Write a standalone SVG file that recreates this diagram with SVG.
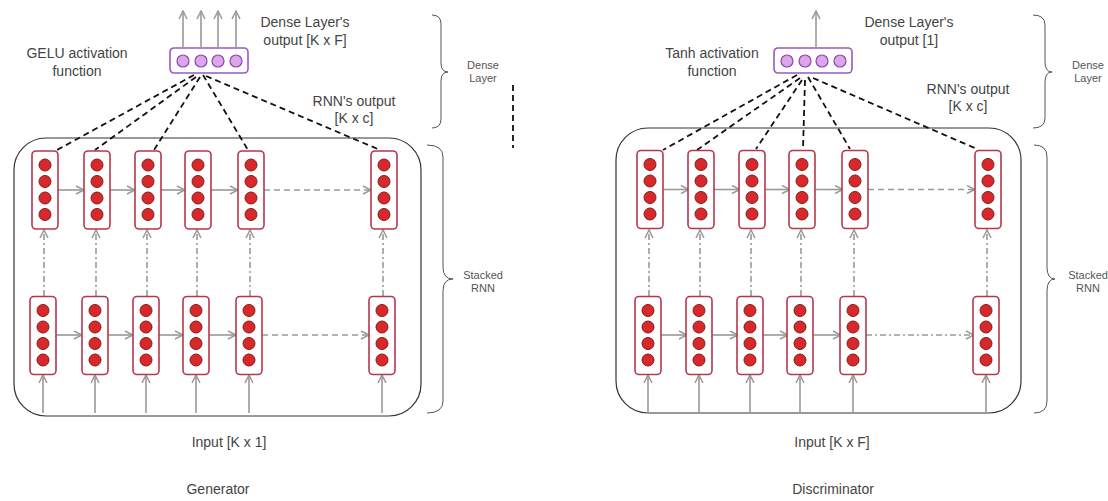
<svg xmlns="http://www.w3.org/2000/svg" xmlns:xlink="http://www.w3.org/1999/xlink" width="1108" height="501" viewBox="0 0 1108 501">
<style>
text{font-family:"Liberation Sans",Arial,sans-serif;fill:#444;}
.lbl{font-size:14px;text-anchor:middle;}
.sm{font-size:11px;text-anchor:middle;fill:#555;}
.cellbox{fill:#fff;stroke:#b8364c;stroke-width:1.6;}
.rc{fill:#d7282b;stroke:#8a1a1a;stroke-width:1;}
.dbox{fill:#fff;stroke:#9b59c0;stroke-width:1.6;}
.pc{fill:#dba6ea;stroke:#8e44ad;stroke-width:1.2;}
.cont{fill:none;stroke:#333;stroke-width:1.2;}
.brace{fill:none;stroke:#555;stroke-width:1;}
.ga{fill:none;stroke:#999;stroke-width:1.6;marker-end:url(#ah);}
.gd{fill:none;stroke:#999;stroke-width:1.6;stroke-dasharray:6 4;marker-end:url(#ah);}
.gdd{fill:none;stroke:#999;stroke-width:1.6;stroke-dasharray:6 3 2 3;marker-end:url(#ah);}
.bk{fill:none;stroke:#111;stroke-width:1.8;stroke-dasharray:6 4;}
</style>
<defs>
<marker id="ah" viewBox="0 0 10 10" refX="9" refY="5" markerWidth="10" markerHeight="10" markerUnits="userSpaceOnUse" orient="auto">
<path d="M1,1 L9,5 L1,9" fill="none" stroke="#999" stroke-width="1.5"/>
</marker>
<g id="cell">
<rect class="cellbox" x="-13" y="-39" width="26" height="78" rx="4"/>
<circle class="rc" cx="0" cy="-25" r="6"/>
<circle class="rc" cx="0" cy="-8.5" r="6"/>
<circle class="rc" cx="0" cy="8" r="6"/>
<circle class="rc" cx="0" cy="24.5" r="6"/>
</g>
<g id="dense">
<rect class="dbox" x="0" y="0" width="78" height="25" rx="4"/>
<circle class="pc" cx="13" cy="13" r="6"/>
<circle class="pc" cx="31" cy="13" r="6"/>
<circle class="pc" cx="48" cy="13" r="6"/>
<circle class="pc" cx="66" cy="13" r="6"/>
</g>
</defs>
<rect width="1108" height="501" fill="#fff"/>

<!-- Generator -->
<g id="gen-container"><rect class="cont" x="14" y="138" width="407" height="278" rx="32"/></g>

<g id="gen-connectors">
<line class="bk" x1="194" y1="75" x2="57" y2="150"/>
<line class="bk" x1="196" y1="77" x2="95" y2="150"/>
<line class="bk" x1="200" y1="77" x2="154" y2="150"/>
<line class="bk" x1="203" y1="75" x2="248" y2="150"/>
<line class="bk" x1="206" y1="76" x2="380" y2="150"/>
<line class="ga" x1="183" y1="47" x2="183" y2="11"/>
<line class="ga" x1="201" y1="47" x2="201" y2="11"/>
<line class="ga" x1="218" y1="47" x2="218" y2="11"/>
<line class="ga" x1="236" y1="47" x2="236" y2="11"/>
<line class="ga" x1="58" y1="190" x2="84" y2="190"/>
<line class="ga" x1="110" y1="190" x2="135" y2="190"/>
<line class="ga" x1="161" y1="190" x2="185" y2="190"/>
<line class="ga" x1="211" y1="190" x2="238" y2="190"/>
<line class="gd" x1="264" y1="190" x2="371" y2="190"/>
<line class="ga" x1="56" y1="335" x2="82" y2="335"/>
<line class="ga" x1="108" y1="335" x2="133" y2="335"/>
<line class="ga" x1="159" y1="335" x2="183" y2="335"/>
<line class="ga" x1="209" y1="335" x2="236" y2="335"/>
<line class="gd" x1="262" y1="335" x2="369" y2="335"/>
<line class="gdd" x1="44" y1="296" x2="44" y2="230"/>
<line class="gdd" x1="96" y1="296" x2="96" y2="230"/>
<line class="gdd" x1="147" y1="296" x2="147" y2="230"/>
<line class="gdd" x1="197" y1="296" x2="197" y2="230"/>
<line class="gdd" x1="250" y1="296" x2="250" y2="230"/>
<line class="gdd" x1="383" y1="296" x2="383" y2="230"/>
<line class="ga" x1="43" y1="413" x2="43" y2="375"/>
<line class="ga" x1="95" y1="413" x2="95" y2="375"/>
<line class="ga" x1="146" y1="413" x2="146" y2="375"/>
<line class="ga" x1="196" y1="413" x2="196" y2="375"/>
<line class="ga" x1="249" y1="413" x2="249" y2="375"/>
<line class="ga" x1="382" y1="413" x2="382" y2="375"/>
<line class="bk" x1="513" y1="85" x2="513" y2="148"/>
</g>

<g id="gen-dense"><use xlink:href="#dense" x="170" y="48"/></g>
<g id="gen-t1"><use xlink:href="#cell" x="45" y="190"/></g>
<g id="gen-t2"><use xlink:href="#cell" x="97" y="190"/></g>
<g id="gen-t3"><use xlink:href="#cell" x="148" y="190"/></g>
<g id="gen-t4"><use xlink:href="#cell" x="198" y="190"/></g>
<g id="gen-t5"><use xlink:href="#cell" x="251" y="190"/></g>
<g id="gen-t6"><use xlink:href="#cell" x="384" y="190"/></g>
<g id="gen-b1"><use xlink:href="#cell" x="43" y="335.5"/></g>
<g id="gen-b2"><use xlink:href="#cell" x="95" y="335.5"/></g>
<g id="gen-b3"><use xlink:href="#cell" x="146" y="335.5"/></g>
<g id="gen-b4"><use xlink:href="#cell" x="196" y="335.5"/></g>
<g id="gen-b5"><use xlink:href="#cell" x="249" y="335.5"/></g>
<g id="gen-b6"><use xlink:href="#cell" x="382" y="335.5"/></g>

<g id="gen-braces">
<path class="brace" d="M432,15 Q441,15 441,24 L441,63 Q441,72 448,72 Q441,72 441,81 L441,119 Q441,128 432,128"/>
<path class="brace" d="M427,145 Q443,145 443,157 L443,267 Q443,279 453,279 Q443,279 443,291 L443,401 Q443,413 427,413"/>
</g>

<g id="gen-labels">
<text class="lbl" x="77" y="58">GELU activation</text>
<text class="lbl" x="77" y="76">function</text>
<text class="lbl" x="305" y="27">Dense Layer's</text>
<text class="lbl" x="305" y="45">output [K x F]</text>
<text class="lbl" x="354" y="106">RNN's output</text>
<text class="lbl" x="354" y="123">[K x c]</text>
<text class="sm" x="483" y="69">Dense</text>
<text class="sm" x="483" y="82">Layer</text>
<text class="sm" x="483" y="279">Stacked</text>
<text class="sm" x="483" y="292">RNN</text>
<text class="lbl" x="229" y="447">Input [K x 1]</text>
<text class="lbl" x="218" y="494">Generator</text>
</g>

<!-- Discriminator -->
<g id="disc-container"><rect class="cont" x="616" y="128" width="405" height="285" rx="32"/></g>

<g id="disc-connectors">
<line class="bk" x1="797" y1="75" x2="663" y2="150"/>
<line class="bk" x1="800" y1="78" x2="697" y2="150"/>
<line class="bk" x1="802" y1="80" x2="756" y2="149"/>
<line class="bk" x1="805" y1="80" x2="803" y2="149"/>
<line class="bk" x1="808" y1="77" x2="850" y2="149"/>
<line class="bk" x1="813" y1="78" x2="977" y2="149"/>
<line class="ga" x1="816" y1="47" x2="816" y2="11"/>
<line class="ga" x1="663" y1="189.5" x2="689" y2="189.5"/>
<line class="ga" x1="714" y1="189.5" x2="740" y2="189.5"/>
<line class="ga" x1="765" y1="189.5" x2="790" y2="189.5"/>
<line class="ga" x1="815" y1="189.5" x2="843" y2="189.5"/>
<line class="gd" x1="868" y1="189.5" x2="975" y2="189.5"/>
<line class="ga" x1="661" y1="335" x2="687" y2="335"/>
<line class="ga" x1="712" y1="335" x2="738" y2="335"/>
<line class="ga" x1="763" y1="335" x2="788" y2="335"/>
<line class="ga" x1="813" y1="335" x2="841" y2="335"/>
<line class="gdd" x1="866" y1="335" x2="974" y2="335"/>
<line class="gdd" x1="649" y1="296" x2="649" y2="230"/>
<line class="gdd" x1="700" y1="296" x2="700" y2="230"/>
<line class="gdd" x1="751" y1="296" x2="751" y2="230"/>
<line class="gdd" x1="801" y1="296" x2="801" y2="230"/>
<line class="gdd" x1="854" y1="296" x2="854" y2="230"/>
<line class="gdd" x1="987" y1="296" x2="987" y2="230"/>
<line class="ga" x1="648" y1="413" x2="648" y2="375"/>
<line class="ga" x1="699" y1="413" x2="699" y2="375"/>
<line class="ga" x1="750" y1="413" x2="750" y2="375"/>
<line class="ga" x1="800" y1="413" x2="800" y2="375"/>
<line class="ga" x1="853" y1="413" x2="853" y2="375"/>
<line class="ga" x1="986" y1="413" x2="986" y2="375"/>
</g>

<g id="disc-dense"><use xlink:href="#dense" x="774" y="48"/></g>
<g id="disc-t1"><use xlink:href="#cell" x="650" y="189.5"/></g>
<g id="disc-t2"><use xlink:href="#cell" x="701" y="189.5"/></g>
<g id="disc-t3"><use xlink:href="#cell" x="752" y="189.5"/></g>
<g id="disc-t4"><use xlink:href="#cell" x="802" y="189.5"/></g>
<g id="disc-t5"><use xlink:href="#cell" x="855" y="189.5"/></g>
<g id="disc-t6"><use xlink:href="#cell" x="988" y="189.5"/></g>
<g id="disc-b1"><use xlink:href="#cell" x="648" y="335.5"/></g>
<g id="disc-b2"><use xlink:href="#cell" x="699" y="335.5"/></g>
<g id="disc-b3"><use xlink:href="#cell" x="750" y="335.5"/></g>
<g id="disc-b4"><use xlink:href="#cell" x="800" y="335.5"/></g>
<g id="disc-b5"><use xlink:href="#cell" x="853" y="335.5"/></g>
<g id="disc-b6"><use xlink:href="#cell" x="986" y="335.5"/></g>

<g id="disc-braces">
<path class="brace" d="M1033,15 Q1045,15 1045,25 L1045,62 Q1045,72 1052,72 Q1045,72 1045,82 L1045,118 Q1045,128 1033,128"/>
<path class="brace" d="M1034,145 Q1047,145 1047,157 L1047,267 Q1047,279 1055,279 Q1047,279 1047,291 L1047,401 Q1047,413 1034,413"/>
</g>

<g id="disc-labels">
<text class="lbl" x="712" y="58">Tanh activation</text>
<text class="lbl" x="712" y="76">function</text>
<text class="lbl" x="909" y="27">Dense Layer's</text>
<text class="lbl" x="909" y="45">output [1]</text>
<text class="lbl" x="968" y="94">RNN's output</text>
<text class="lbl" x="968" y="111">[K x c]</text>
<text class="sm" x="1088" y="69">Dense</text>
<text class="sm" x="1088" y="82">Layer</text>
<text class="sm" x="1088" y="279">Stacked</text>
<text class="sm" x="1088" y="292">RNN</text>
<text class="lbl" x="832" y="447">Input [K x F]</text>
<text class="lbl" x="833" y="494">Discriminator</text>
</g>
</svg>
